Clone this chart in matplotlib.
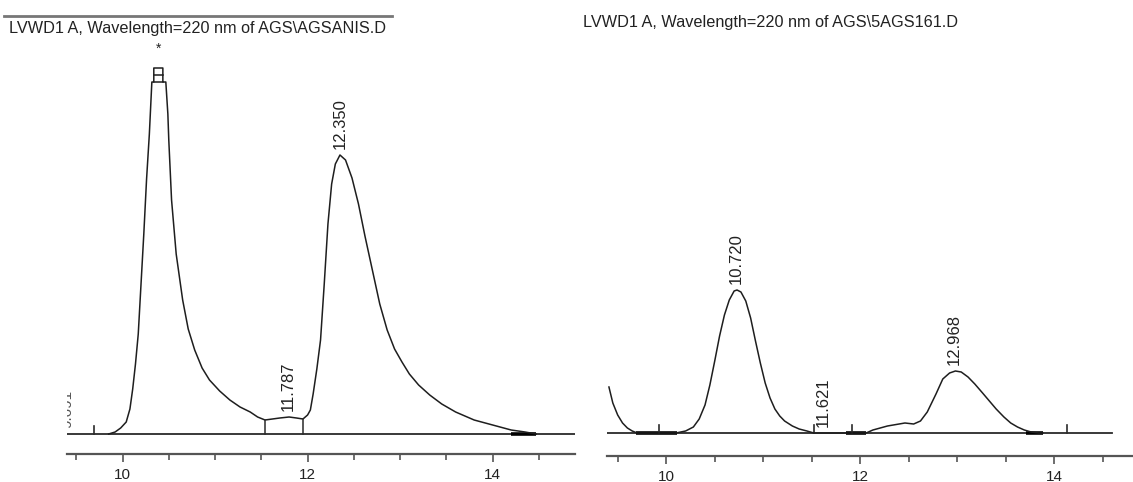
import numpy as np
import matplotlib
matplotlib.use("Agg")
import matplotlib.pyplot as plt
from matplotlib.lines import Line2D
from matplotlib.ticker import MultipleLocator

plt.rcParams['font.family'] = ['Liberation Sans', 'DejaVu Sans']

W, H = 1133, 482

# ---- left run: AGSANIS.D (signal = height above baseline, arbitrary units)
left_title = "LVWD1 A, Wavelength=220 nm of AGS\\AGSANIS.D"
left_time = [9.85, 9.92, 9.98, 10.04, 10.08, 10.11, 10.14, 10.17, 10.20, 10.23,
             10.26, 10.29, 10.317, 10.338, 10.338, 10.436, 10.436, 10.468, 10.49,
             10.50, 10.53, 10.58, 10.65, 10.71, 10.78, 10.86, 10.94, 11.05, 11.16,
             11.27, 11.38, 11.46, 11.54, 11.62, 11.70, 11.80, 11.88, 11.95, 12.00,
             12.03, 12.06, 12.10, 12.14, 12.18, 12.22, 12.26, 12.30, 12.35, 12.41,
             12.48, 12.55, 12.62, 12.70, 12.78, 12.86, 12.94, 13.02, 13.10, 13.20,
             13.32, 13.45, 13.60, 13.80, 14.00, 14.20, 14.35, 14.47]
left_signal = [0, 2, 6, 12, 25, 45, 70, 100, 150, 200,
               255, 300, 352, 352, 366, 366, 352, 352, 320,
               294, 234, 180, 134, 105, 84, 66, 54, 43, 34,
               27, 22, 17, 14, 15, 16, 17, 16, 15, 19,
               24, 40, 65, 94, 150, 210, 250, 270, 279, 274,
               256, 230, 198, 164, 130, 104, 85, 72, 60, 49,
               39, 30, 22, 14, 9, 4, 2, 0]
left_peak_rt = [11.787, 12.350]
left_peak_labels = ["11.787", "12.350"]
left_drops = [11.54, 11.95]
left_events = [9.69]
left_flat = [(14.20, 14.47)]
left_clipped_rt = 9.40
left_clipped_label = "9.691"
left_box = (10.338, 10.436)
left_box_levels = [352, 359]
left_xlim = (9.40, 14.89)

# ---- right run: 5AGS161.D
right_title = "LVWD1 A, Wavelength=220 nm of AGS\\5AGS161.D"
right_time = [9.41, 9.45, 9.50, 9.55, 9.60, 9.65, 9.70, 10.10, 10.20, 10.28,
              10.34, 10.40, 10.45, 10.50, 10.55, 10.60, 10.65, 10.70, 10.73, 10.77,
              10.82, 10.87, 10.92, 10.97, 11.02, 11.07, 11.12, 11.17, 11.22, 11.30,
              11.37, 11.45, 11.52, 12.06, 12.13, 12.28, 12.46, 12.55, 12.62, 12.69,
              12.78, 12.85, 12.92, 12.98, 13.04, 13.11, 13.18, 13.26, 13.33, 13.40,
              13.48, 13.55, 13.62, 13.69, 13.76, 13.84, 13.88]
right_signal = [46, 30, 18, 10, 5, 2, 0, 0, 2, 6,
                14, 28, 48, 72, 97, 118, 133, 142, 143, 141,
                132, 115, 92, 70, 50, 35, 24, 17, 12, 7,
                4, 2, 0, 0, 3, 7, 10, 9, 12, 21,
                39, 54, 60, 62, 61, 56, 49, 40, 32, 24,
                16, 10, 6, 3, 1, 0, 0]
right_peak_rt = [10.720, 11.621, 12.968]
right_peak_labels = ["10.720", "11.621", "12.968"]
right_events = [9.93, 11.52, 11.91, 14.13]
right_flat = [(9.69, 10.11), (11.85, 12.06), (13.71, 13.88)]
right_xlim = (9.39, 14.81)
right_base_end = 14.59

CURVE = '#1e1e1e'
BASE = '#2a2a2a'
AXIS = '#555555'
TXT = '#222222'

fig = plt.figure(figsize=(W / 100, H / 100), dpi=100)


def px_axes(x0, x1, ytop, ybot):
    return fig.add_axes([x0 / W, 1 - ybot / H, (x1 - x0) / W, (ybot - ytop) / H])


def setup(ax, xlim, ylim):
    ax.set_xlim(*xlim)
    ax.set_ylim(*ylim)
    for s in ['left', 'right', 'top']:
        ax.spines[s].set_visible(False)
    ax.spines['bottom'].set_color(AXIS)
    ax.spines['bottom'].set_linewidth(1.6)
    ax.set_yticks([])
    ax.xaxis.set_major_locator(MultipleLocator(2))
    ax.xaxis.set_minor_locator(MultipleLocator(0.5))
    ax.tick_params(axis='x', which='major', direction='out', length=6, width=1.2,
                   color=AXIS, labelsize=11, labelcolor=TXT, pad=4)
    ax.tick_params(axis='x', which='minor', direction='out', length=4, width=1.2,
                   color=AXIS)
    ax.patch.set_alpha(0)


def draw(ax, t, s, base_end, events, flat, peaks, labels):
    ax.plot([ax.get_xlim()[0], base_end], [0, 0], color=BASE, lw=1.3)
    for a, b in flat:
        ax.plot([a, b], [0, 0], color='#000000', lw=2.6, solid_capstyle='butt')
    for e in events:
        ax.plot([e, e], [0, 8], color=BASE, lw=1.2)
    ax.plot(t, s, color=CURVE, lw=1.1)
    for rt, lab in zip(peaks, labels):
        ax.text(rt, np.interp(rt, t, s) + 6, lab, rotation=90, ha='center',
                va='bottom', fontsize=12, color=TXT)


# left panel
axl = px_axes(67, 575, 40, 454)
setup(axl, left_xlim, (-20, 394))
draw(axl, left_time, left_signal, left_xlim[1], left_events, left_flat,
     left_peak_rt, left_peak_labels)
for d in left_drops:
    axl.plot([d, d], [0, np.interp(d, left_time, left_signal)], color=BASE, lw=1.1)
for lv in left_box_levels:
    axl.plot(left_box, [lv, lv], color=CURVE, lw=1.1)
axl.text(np.mean(left_box), 378, "*", ha='center', va='bottom', fontsize=10, color=TXT)
axl.text(left_clipped_rt, 6, left_clipped_label, rotation=90, ha='center',
         va='bottom', fontsize=11, color='#555555', clip_on=True)

# right panel
axr = px_axes(607, 1133, 40, 456)
setup(axr, right_xlim, (-23, 393))
draw(axr, right_time, right_signal, right_base_end, right_events, right_flat,
     right_peak_rt, right_peak_labels)

# headers
fig.add_artist(Line2D([4 / W, 392 / W], [1 - 16 / H] * 2, color='#777777', lw=2))
fig.text(9 / W, 1 - 29 / H, left_title, va='center', ha='left', fontsize=11.7, color=TXT)
fig.text(583 / W, 1 - 23 / H, right_title, va='center', ha='left', fontsize=11.7, color=TXT)

fig.savefig("out.png", dpi=100)
